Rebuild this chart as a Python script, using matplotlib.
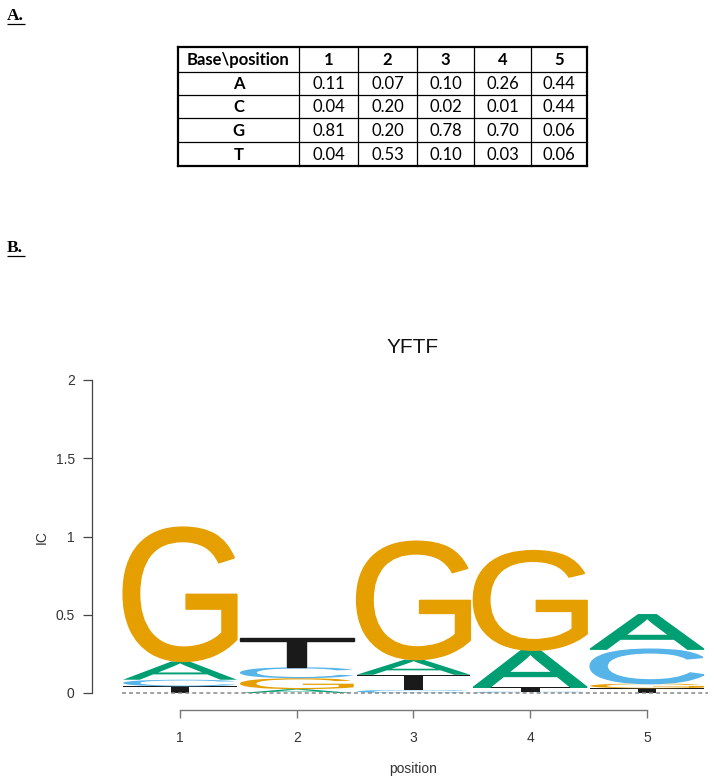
import matplotlib
matplotlib.use("Agg")
import matplotlib.pyplot as plt
from matplotlib.textpath import TextPath
from matplotlib.patches import PathPatch
from matplotlib.font_manager import FontProperties
from matplotlib.transforms import Affine2D

# ---------------- data ----------------
bases = ["A", "C", "G", "T"]
positions = [1, 2, 3, 4, 5]
freq_A = [0.11, 0.07, 0.10, 0.26, 0.44]
freq_C = [0.04, 0.20, 0.02, 0.01, 0.44]
freq_G = [0.81, 0.20, 0.78, 0.70, 0.06]
freq_T = [0.04, 0.53, 0.10, 0.03, 0.06]
# total column height (information content, bits)
ic = [1.06, 0.35, 0.97, 0.91, 0.50]
yticks = [0, 0.5, 1, 1.5, 2]
ytick_labels = ["0", "0.5", "1", "1.5", "2"]
title = "YFTF"

freqs = {"A": freq_A, "C": freq_C, "G": freq_G, "T": freq_T}
colors = {"A": "#009E73", "C": "#56B4E9", "G": "#E69F00", "T": "#1A1A1A"}
tie_rank = {"T": 0, "G": 1, "C": 2, "A": 3}

W, H = 714, 777
fig = plt.figure(figsize=(W / 100, H / 100), dpi=100)

def fx(px):
    return px / W

def fy(py):
    return 1 - py / H

# ---------------- background axes for panel labels and table ----------------
bg = fig.add_axes([0, 0, 1, 1])
bg.set_xlim(0, W)
bg.set_ylim(H, 0)
bg.axis("off")

serif = FontProperties(family="Liberation Serif", weight="bold", size=12.5)
for lab, x0, yb, ul in [("A.", 7, 20, 23.5), ("B.", 7, 252, 255.5)]:
    bg.text(x0, yb, lab, fontproperties=serif, ha="left", va="baseline", color="black")
    bg.plot([x0, x0 + 18], [ul, ul], color="black", lw=0.9, solid_capstyle="butt")

# table
col_edges = [178, 299, 358, 417, 474, 531, 587]
row_edges = [47, 72, 95, 118, 142, 166]
header = ["Base\\position"] + [str(p) for p in positions]
rows = [[b] + ["%.2f" % v for v in freqs[b]] for b in bases]
for xe in col_edges:
    lw = 1.6 if xe in (col_edges[0], col_edges[-1]) else 0.9
    bg.plot([xe, xe], [row_edges[0], row_edges[-1]], color="black", lw=lw)
for ye in row_edges:
    lw = 1.6 if ye in (row_edges[0], row_edges[-1]) else 0.9
    bg.plot([col_edges[0], col_edges[-1]], [ye, ye], color="black", lw=lw)

tfont = "Lato"
all_rows = [header] + rows
for r, row in enumerate(all_rows):
    yc = (row_edges[r] + row_edges[r + 1]) / 2
    for c, val in enumerate(row):
        xc = (col_edges[c] + col_edges[c + 1]) / 2
        bold = (r == 0) or (c == 0)
        bg.text(xc, yc + 0.5, val, ha="center", va="center", family=tfont,
                fontsize=12, fontweight="bold" if bold else "normal", color="black")

# ---------------- logo axes ----------------
px_per_x = 116.75
px_per_y = 156.5
x_left = 1 + (92 - 180) / px_per_x
x_right = 1 + (711 - 180) / px_per_x
y_bottom = -(710 - 693) / px_per_y
ax = fig.add_axes([fx(92), fy(710), fx(711) - fx(92), fy(380) - fy(710)])
ax.set_xlim(x_left, x_right)
ax.set_ylim(y_bottom, 2)
ax.patch.set_alpha(0)

for s in ["top", "right"]:
    ax.spines[s].set_visible(False)
ax.spines["left"].set_bounds(0, 2)
ax.spines["bottom"].set_bounds(1, 5)
ax.spines["left"].set_color("#444444")
ax.spines["bottom"].set_color("#777777")
ax.spines["left"].set_linewidth(0.9)
ax.spines["bottom"].set_linewidth(1.0)
ax.set_yticks(yticks)
ax.set_yticklabels(ytick_labels)
ax.set_xticks(positions)
ax.set_xticklabels([str(p) for p in positions])
ax.tick_params(axis="y", length=6.5, width=0.9, color="#444444", pad=6,
               labelsize=10, labelcolor="#333333")
ax.tick_params(axis="x", length=5.8, width=1.0, color="#777777", pad=9,
               labelsize=10, labelcolor="#333333")
for lab in ax.get_xticklabels() + ax.get_yticklabels():
    lab.set_family("Liberation Sans")

letter_font = FontProperties(family="Liberation Sans")
glyphs = {}
for b in bases:
    tp = TextPath((0, 0), b, size=1, prop=letter_font)
    glyphs[b] = (tp, tp.get_extents())

letter_w = 0.975
for i, pos in enumerate(positions):
    heights = {b: freqs[b][i] * ic[i] for b in bases}
    order = sorted(bases, key=lambda b: (heights[b], tie_rank[b]))
    y0 = 0.0
    for b in order:
        h = heights[b]
        tp, ext = glyphs[b]
        tr = (Affine2D()
              .translate(-ext.x0, -ext.y0)
              .scale(letter_w / ext.width, h / ext.height)
              .translate(pos - letter_w / 2, y0))
        path = tr.transform_path(tp)
        big = h * px_per_y > 20
        ax.add_patch(PathPatch(path, facecolor=colors[b],
                               edgecolor=colors[b] if big else "none",
                               lw=1.0 if big else 0, joinstyle="miter", zorder=2))
        y0 += h

ax.plot([0.5, 5.52], [0, 0], color="#888888", lw=1.1, dashes=(2.6, 2.0), zorder=3,
        clip_on=False)

fig.text(fx(413), fy(347), title, ha="center", va="center", family="Liberation Sans",
         fontsize=15, color="#111111")
fig.text(fx(413), fy(769), "position", ha="center", va="center", family="Liberation Sans",
         fontsize=10, color="#333333")
fig.text(fx(42), fy(537), "IC", ha="center", va="center", rotation=90,
         family="Liberation Sans", fontsize=10, color="#333333")

fig.savefig("out.png", dpi=100)
